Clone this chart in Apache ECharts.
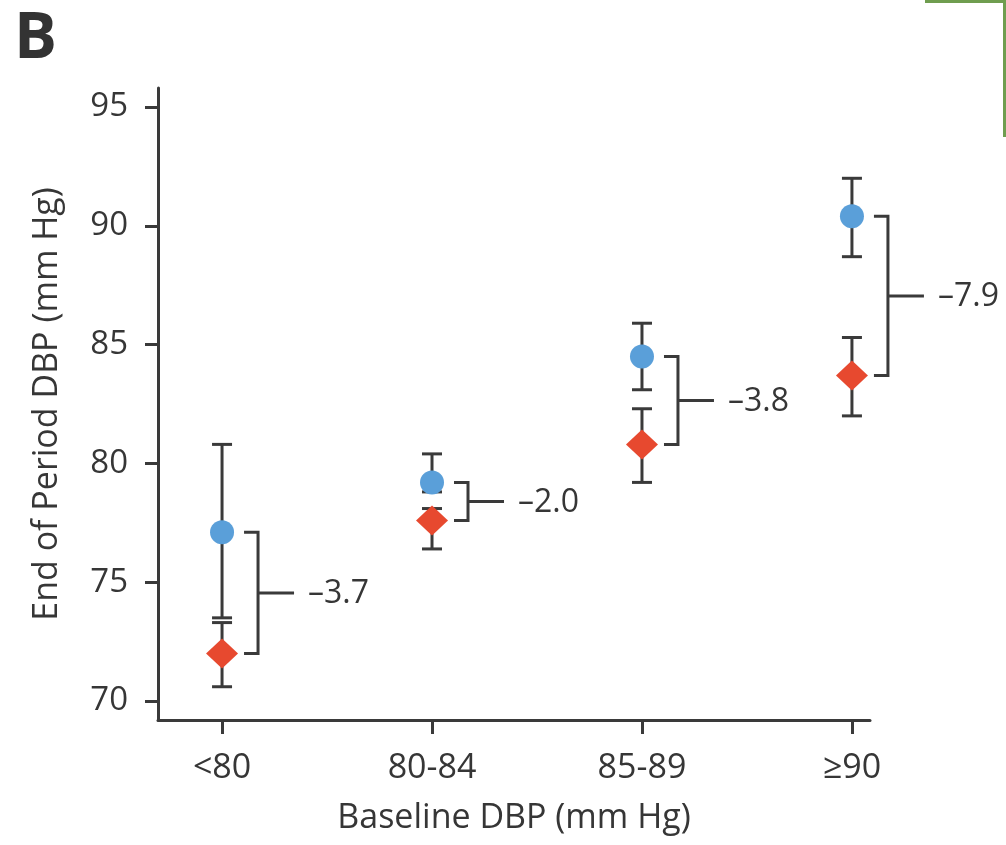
<!DOCTYPE html>
<html>
<head>
<meta charset="utf-8">
<script src="https://cdn.jsdelivr.net/npm/echarts@6/dist/echarts.min.js"></script>
<style>
  html, body { margin: 0; padding: 0; background: #fff; }
  #chart { width: 1006px; height: 845px; }
</style>
</head>
<body>
<div id="chart"></div>
<script>
// 基线舒张压分组
var categories = ['<80', '80-84', '85-89', '≥90'];
// 标准组（蓝色圆点）
var standardMean = [77.1, 79.2, 84.5, 90.4];
var standardLow = [73.5, 78.8, 83.1, 88.7];
var standardHigh = [80.8, 80.4, 85.9, 92.0];
// 强化组（红色菱形）
var intensiveMean = [72.0, 77.6, 80.8, 83.7];
var intensiveLow = [70.6, 76.4, 79.2, 82.0];
var intensiveHigh = [73.3, 78.1, 82.3, 85.3];
// 差值标签
var diffLabels = ['–3.7', '–2.0', '–3.8', '–7.9'];
// y 轴刻度
var yTicks = [70, 75, 80, 85, 90, 95];

var textColor = '#363636';
var lineColor = '#3a3a3a';
var blue = '#5a9fd9';
var red = '#e7492f';
var font = '"Open Sans", "Noto Sans", sans-serif';

function toPairs(arr) {
  return arr.map(function (v, i) { return [i, v]; });
}

function errorData(low, high) {
  return low.map(function (v, i) { return [i, v, high[i]]; });
}

function renderError(params, api) {
  var lo = api.coord([api.value(0), api.value(1)]);
  var hi = api.coord([api.value(0), api.value(2)]);
  var half = 10;
  var style = { stroke: lineColor, lineWidth: 3 };
  return {
    type: 'group',
    children: [
      { type: 'line', shape: { x1: lo[0], y1: lo[1], x2: hi[0], y2: hi[1] }, style: style },
      { type: 'line', shape: { x1: lo[0] - half, y1: lo[1], x2: lo[0] + half, y2: lo[1] }, style: style },
      { type: 'line', shape: { x1: hi[0] - half, y1: hi[1], x2: hi[0] + half, y2: hi[1] }, style: style }
    ]
  };
}

var bracketData = standardMean.map(function (v, i) { return [i, v, intensiveMean[i]]; });

function renderBracket(params, api) {
  var top = api.coord([api.value(0), api.value(1)]);
  var bot = api.coord([api.value(0), api.value(2)]);
  var x0 = top[0] + 22;
  var x1 = top[0] + 36;
  var x2 = top[0] + 72;
  var midY = (top[1] + bot[1]) / 2;
  var style = { stroke: lineColor, lineWidth: 3, fill: null };
  return {
    type: 'group',
    children: [
      {
        type: 'polyline',
        shape: { points: [[x0, top[1]], [x1, top[1]], [x1, bot[1]], [x0, bot[1]]] },
        style: style
      },
      { type: 'line', shape: { x1: x1, y1: midY, x2: x2, y2: midY }, style: style },
      {
        type: 'text',
        x: x2 + 14,
        y: midY + 1,
        style: {
          text: diffLabels[params.dataIndex],
          fill: textColor,
          font: '32px ' + font,
          verticalAlign: 'middle',
          align: 'left'
        }
      }
    ]
  };
}

var myChart = echarts.init(document.getElementById('chart'));

var option = {
  backgroundColor: '#fff',
  animation: false,
  textStyle: { fontFamily: font },
  graphic: [
    {
      type: 'text', left: 14, top: 8,
      style: { text: 'B', fill: '#333', font: 'bold 64px ' + font }
    },
    { type: 'rect', shape: { x: 925, y: 0, width: 81, height: 3 }, style: { fill: '#6f9d4f' } },
    { type: 'rect', shape: { x: 1003, y: 0, width: 3, height: 137 }, style: { fill: '#6f9d4f' } }
  ],
  grid: {
    left: 158,
    top: 88,
    width: 712,
    height: 632
  },
  xAxis: {
    type: 'value',
    min: -0.305,
    max: 3.086,
    splitLine: { show: false },
    axisLine: { show: true, onZero: false, lineStyle: { color: lineColor, width: 3 } },
    axisTick: {
      show: true,
      customValues: [0, 1, 2, 3],
      length: 14,
      lineStyle: { color: lineColor, width: 3 }
    },
    axisLabel: {
      customValues: [0, 1, 2, 3],
      formatter: function (v) { return categories[Math.round(v)]; },
      color: textColor,
      fontSize: 34,
      margin: 31
    },
    name: 'Baseline DBP (mm Hg)',
    nameLocation: 'middle',
    nameGap: 81,
    nameTextStyle: { color: textColor, fontSize: 34 }
  },
  yAxis: {
    type: 'value',
    min: 69.2,
    max: 95.8,
    splitLine: { show: false },
    axisLine: { show: true, onZero: false, lineStyle: { color: lineColor, width: 3 } },
    axisTick: {
      show: true,
      customValues: yTicks,
      length: 13,
      lineStyle: { color: lineColor, width: 3 }
    },
    axisLabel: {
      customValues: yTicks,
      color: textColor,
      fontSize: 33,
      margin: 30
    },
    name: 'End of Period DBP (mm Hg)',
    nameLocation: 'middle',
    nameGap: 94,
    nameTextStyle: { color: textColor, fontSize: 34 }
  },
  series: [
    {
      type: 'custom',
      name: 'standardErr',
      renderItem: renderError,
      data: errorData(standardLow, standardHigh),
      z: 2
    },
    {
      type: 'custom',
      name: 'intensiveErr',
      renderItem: renderError,
      data: errorData(intensiveLow, intensiveHigh),
      z: 2
    },
    {
      type: 'scatter',
      name: 'Standard',
      symbol: 'circle',
      symbolSize: 24,
      itemStyle: { color: blue, opacity: 1 },
      data: toPairs(standardMean),
      z: 5
    },
    {
      type: 'scatter',
      name: 'Intensive',
      symbol: 'diamond',
      symbolSize: [32, 30],
      itemStyle: { color: red, opacity: 1 },
      data: toPairs(intensiveMean),
      z: 5
    },
    {
      type: 'custom',
      name: 'bracket',
      renderItem: renderBracket,
      data: bracketData,
      z: 3
    }
  ]
};

myChart.setOption(option);
</script>
</body>
</html>
